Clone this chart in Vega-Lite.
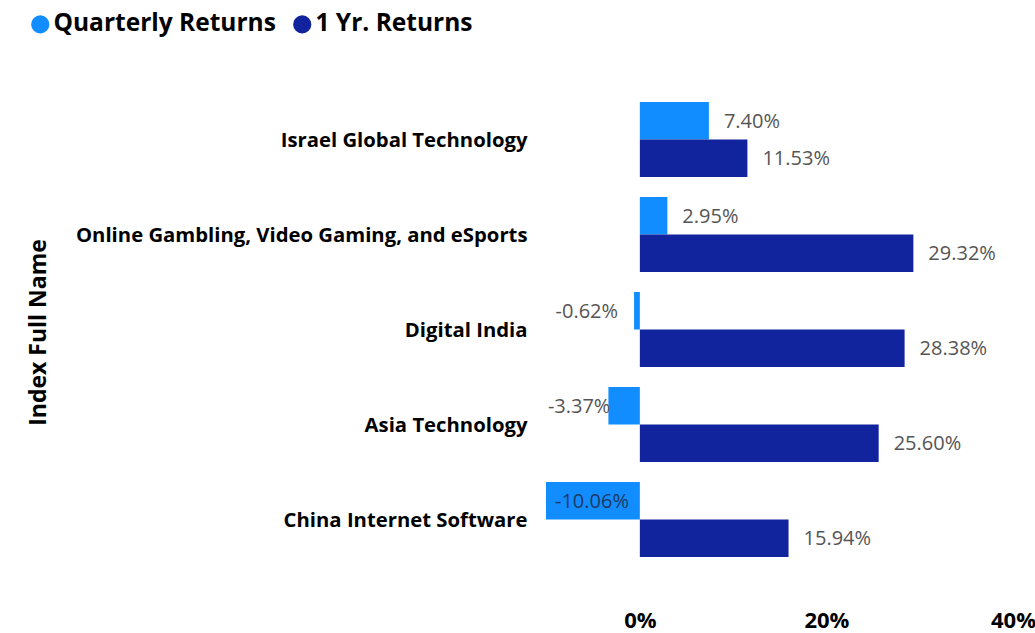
{
  "$schema": "https://vega.github.io/schema/vega-lite/v6.json",
  "autosize": "none",
  "width": 467,
  "height": 475,
  "padding": {"left": 546, "top": 92, "right": 22, "bottom": 66},
  "background": "white",
  "config": {
    "view": {"stroke": null},
    "font": "Open Sans",
    "locale": {"number": {"decimal": ".", "thousands": ",", "grouping": [3], "currency": ["$", ""], "minus": "-"}}
  },
  "data": {
    "values": [
      {"index": "Israel Global Technology", "series": "Quarterly Returns", "value": 0.0740},
      {"index": "Israel Global Technology", "series": "1 Yr. Returns", "value": 0.1153},
      {"index": "Online Gambling, Video Gaming, and eSports", "series": "Quarterly Returns", "value": 0.0295},
      {"index": "Online Gambling, Video Gaming, and eSports", "series": "1 Yr. Returns", "value": 0.2932},
      {"index": "Digital India", "series": "Quarterly Returns", "value": -0.0062},
      {"index": "Digital India", "series": "1 Yr. Returns", "value": 0.2838},
      {"index": "Asia Technology", "series": "Quarterly Returns", "value": -0.0337},
      {"index": "Asia Technology", "series": "1 Yr. Returns", "value": 0.2560},
      {"index": "China Internet Software", "series": "Quarterly Returns", "value": -0.1006},
      {"index": "China Internet Software", "series": "1 Yr. Returns", "value": 0.1594}
    ]
  },
  "encoding": {
    "y": {
      "field": "index",
      "type": "nominal",
      "sort": null,
      "scale": {"paddingInner": 0.21, "paddingOuter": 0.105},
      "axis": {
        "title": "Index Full Name",
        "titleFontSize": 23,
        "titleFontWeight": "bold",
        "titleColor": "#000000",
        "titleX": -508,
        "titleY": 240,
        "titleAngle": -90,
        "titleAlign": "center",
        "titleBaseline": "middle",
        "labelFontSize": 20.3,
        "labelFontWeight": "bold",
        "labelColor": "#000000",
        "labelPadding": 19,
        "labelLimit": 600,
        "labelOffset": 1,
        "ticks": false,
        "tickSize": 0,
        "domain": false,
        "grid": false
      }
    },
    "yOffset": {
      "field": "series",
      "type": "nominal",
      "sort": ["Quarterly Returns", "1 Yr. Returns"],
      "scale": {"paddingInner": 0, "paddingOuter": 0}
    },
    "x": {
      "field": "value",
      "type": "quantitative",
      "scale": {"domain": [-0.1006, 0.40], "nice": false, "zero": false},
      "axis": {
        "title": null,
        "values": [0, 0.2, 0.4],
        "format": ".0%",
        "labelFontSize": 22,
        "labelFontWeight": "bold",
        "labelColor": "#000000",
        "labelBaseline": "alphabetic",
        "labelPadding": 60,
        "labelFlush": false,
        "labelOverlap": false,
        "ticks": false,
        "tickSize": 0,
        "domain": false,
        "grid": false
      }
    }
  },
  "layer": [
    {
      "mark": {"type": "bar"},
      "encoding": {
        "x2": {"datum": 0},
        "color": {
          "field": "series",
          "type": "nominal",
          "sort": ["Quarterly Returns", "1 Yr. Returns"],
          "scale": {"domain": ["Quarterly Returns", "1 Yr. Returns"], "range": ["#118DFF", "#12239E"]},
          "legend": {
            "title": null,
            "orient": "none",
            "legendX": -518,
            "legendY": -80,
            "direction": "horizontal",
            "symbolType": "circle",
            "symbolSize": 330,
            "symbolStrokeWidth": 0,
            "symbolOpacity": 1,
            "labelFontSize": 24.5,
            "labelFontWeight": "bold",
            "labelColor": "#000000",
            "labelOffset": 1,
            "columnPadding": 14,
            "labelLimit": 400
          }
        }
      }
    },
    {
      "transform": [{"filter": "datum.value >= 0"}],
      "mark": {"type": "text", "align": "left", "baseline": "middle", "dx": 15, "dy": 1, "fontSize": 20, "color": "#555555"},
      "encoding": {"text": {"field": "value", "type": "quantitative", "format": ".2%"}}
    },
    {
      "transform": [{"filter": "datum.value < 0 && datum.value > -0.02"}],
      "mark": {"type": "text", "align": "right", "baseline": "middle", "dx": -16, "dy": 1, "fontSize": 20, "color": "#555555"},
      "encoding": {"text": {"field": "value", "type": "quantitative", "format": ".2%"}}
    },
    {
      "transform": [{"filter": "datum.value <= -0.02 && datum.value > -0.06"}],
      "mark": {"type": "text", "align": "right", "baseline": "middle", "dx": 2, "dy": 1, "fontSize": 20, "color": "#555555"},
      "encoding": {"text": {"field": "value", "type": "quantitative", "format": ".2%"}}
    },
    {
      "transform": [{"filter": "datum.value <= -0.06"}],
      "mark": {"type": "text", "align": "left", "baseline": "middle", "dx": 9, "dy": 1, "fontSize": 20, "color": "#1E3A5F"},
      "encoding": {"text": {"field": "value", "type": "quantitative", "format": ".2%"}}
    }
  ]
}
